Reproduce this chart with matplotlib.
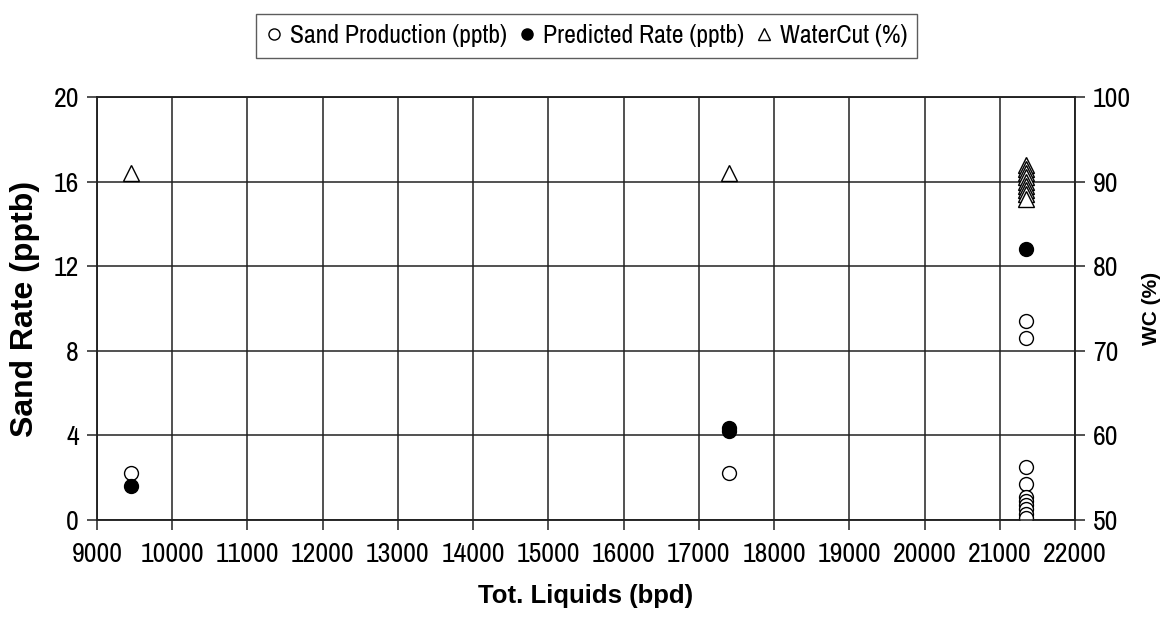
import matplotlib
matplotlib.use("Agg")
import matplotlib.pyplot as plt
from matplotlib.lines import Line2D
from matplotlib import font_manager

entries = font_manager.fontManager.ttflist
names = sorted({f.name for f in entries})
narrow = [n for n in names if 'Narrow' in n or 'Condensed' in n]
NARROW = narrow[0] if narrow else 'Liberation Sans'
HAS_NARROW = bool(narrow)
BOLD = 'Liberation Sans'

# Data
sand_x = [9450, 17400] + [21350] * 10
sand_y = [2.2, 2.2, 9.4, 8.6, 2.5, 1.7, 1.1, 0.9, 0.7, 0.5, 0.3, 0.1]
pred_x = [9450, 17400, 17400, 21350]
pred_y = [1.6, 4.2, 4.35, 12.8]
wc_x = [9450, 17400] + [21350] * 9
wc_y = [91, 91, 92.0, 91.5, 91.0, 90.5, 90.0, 89.5, 89.0, 88.5, 88.0]

xticks = list(range(9000, 22001, 1000))
yticks_left = [0, 4, 8, 12, 16, 20]
yticks_right = [50, 60, 70, 80, 90, 100]

tick_fs = 20 if HAS_NARROW else 16
leg_fs = 18.5 if HAS_NARROW else 15

fig = plt.figure(figsize=(11.69, 6.27), dpi=100)
ax = fig.add_axes([0.083, 0.1707, 0.8366, 0.6746])
ax2 = ax.twinx()

ax.set_xlim(9000, 22000)
ax.set_ylim(0, 20)
ax2.set_ylim(50, 100)

ax.set_xticks(xticks)
ax.set_yticks(yticks_left)
ax2.set_yticks(yticks_right)
ax.grid(True, color='#222222', linewidth=1.1)
ax.set_axisbelow(True)

ms = 10
ax.plot(sand_x, sand_y, linestyle='none', marker='o', markersize=ms,
        markerfacecolor='white', markeredgecolor='black', markeredgewidth=1.0, zorder=3)
ax.plot(pred_x, pred_y, linestyle='none', marker='o', markersize=ms,
        markerfacecolor='black', markeredgecolor='black', zorder=4)
ax2.plot(wc_x, wc_y, linestyle='none', marker='^', markersize=ms + 1,
         markerfacecolor='white', markeredgecolor='black', markeredgewidth=1.0, zorder=3)

for a in (ax, ax2):
    for s in a.spines.values():
        s.set_color('#222222')
        s.set_linewidth(1.1)
    a.tick_params(length=7, width=1.1, color='#222222', labelsize=tick_fs)
    for lab in a.get_xticklabels() + a.get_yticklabels():
        lab.set_fontfamily(NARROW)
ax.tick_params(axis='x', pad=9)
ax.tick_params(axis='y', pad=6)
ax2.tick_params(axis='y', pad=6)

ax.set_xlabel('Tot. Liquids (bpd)', fontsize=18.5, fontweight='bold', family=BOLD, labelpad=12)
ax.set_ylabel('Sand Rate (pptb)', fontsize=23, fontweight='bold', family=BOLD, labelpad=10)
ax2.set_ylabel('WC (%)', fontsize=15, fontweight='bold', family=BOLD, labelpad=8)

handles = [
    Line2D([], [], linestyle='none', marker='o', markersize=8, markerfacecolor='white', markeredgecolor='black'),
    Line2D([], [], linestyle='none', marker='o', markersize=8, markerfacecolor='black', markeredgecolor='black'),
    Line2D([], [], linestyle='none', marker='^', markersize=9, markerfacecolor='white', markeredgecolor='black'),
]
labels = ['Sand Production (pptb)', 'Predicted Rate (pptb)', 'WaterCut (%)']
leg = fig.legend(handles, labels, loc='upper center', bbox_to_anchor=(0.502, 0.998), ncol=3,
                 frameon=True, fancybox=False, edgecolor='#333333', handlelength=0.6,
                 handletextpad=0.3, columnspacing=0.5, borderpad=0.4,
                 prop={'family': NARROW, 'size': leg_fs})
leg.get_frame().set_linewidth(1.0)

fig.savefig('out.png', dpi=100, facecolor='white')
